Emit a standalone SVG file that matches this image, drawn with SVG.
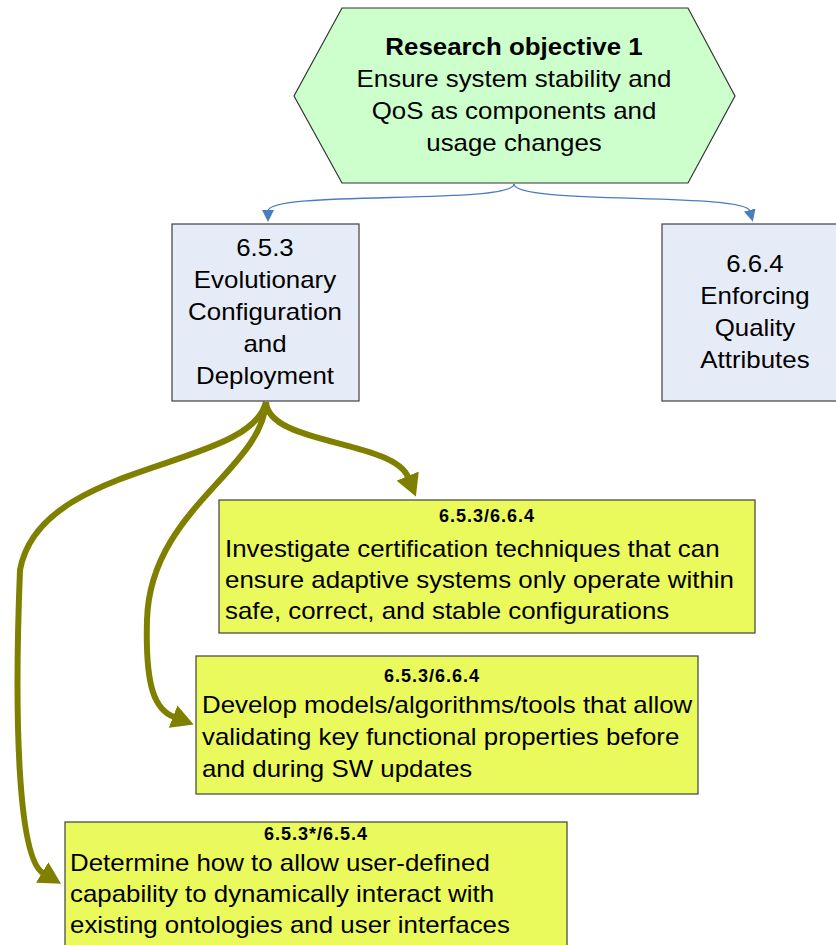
<svg xmlns="http://www.w3.org/2000/svg" width="836" height="945" viewBox="0 0 836 945">
<defs>
<style>
.t{font-family:"Liberation Sans",Arial,sans-serif;font-size:23px;fill:#000}
.c{text-anchor:middle}
.b{font-weight:bold}
.h{font-family:"Liberation Sans",Arial,sans-serif;font-size:18px;font-weight:bold;text-anchor:middle;fill:#000;letter-spacing:1px}
.blue{fill:#e6ecf7;stroke:#404040;stroke-width:1.2}
.yel{fill:#eafa5c;stroke:#404040;stroke-width:1.2}
.ol{fill:none;stroke:#808000;stroke-width:6;marker-end:url(#ah)}
.bl{fill:none;stroke:#4a7ebb;stroke-width:1.3;marker-end:url(#bh)}
</style>
<marker id="ah" markerUnits="userSpaceOnUse" viewBox="0 0 22 24" refX="1" refY="12" markerWidth="22" markerHeight="24" orient="auto"><path d="M0,0 L22,12 L0,24 z" fill="#808000"/></marker>
<marker id="bh" markerUnits="userSpaceOnUse" viewBox="0 0 12 12" refX="1" refY="6" markerWidth="12" markerHeight="12" orient="auto"><path d="M0,0 L12,6 L0,12 z" fill="#4a7ebb"/></marker>
</defs>
<rect width="836" height="945" fill="#fff"/>
<g id="connectors">
<path class="bl" d="M514,184 C514,205 268,190 268,211"/>
<path class="bl" d="M514,184 C514,205 745,192 750,211"/>
<path class="ol" d="M266,402 C268,445 393,440 408,477"/>
<path class="ol" d="M266,402 C262,470 150,510 147,620 C145,690 156,710 174,717"/>
<path class="ol" d="M266,402 C250,470 40,460 20,570 C14,720 18,858 43,873"/>
</g>
<g id="objective">
<polygon points="342,8 688,8 735,96 688,183 342,183 294,96" fill="#ccffcc" stroke="#333" stroke-width="1.2"/>
<g transform="translate(514,0) scale(1.125,1) translate(-514,0)">
<text class="t c b" x="514" y="55">Research objective 1</text>
<text class="t c" x="514" y="87">Ensure system stability and</text>
<text class="t c" x="514" y="119">QoS as components and</text>
<text class="t c" x="514" y="151">usage changes</text>
</g>
</g>
<g id="n653">
<rect class="blue" x="172" y="224" width="187" height="177"/>
<g transform="translate(265,0) scale(1.125,1) translate(-265,0)">
<text class="t c" x="265" y="256">6.5.3</text>
<text class="t c" x="265" y="288">Evolutionary</text>
<text class="t c" x="265" y="320">Configuration</text>
<text class="t c" x="265" y="352">and</text>
<text class="t c" x="265" y="384">Deployment</text>
</g>
</g>
<g id="n664">
<rect class="blue" x="662" y="224" width="180" height="177"/>
<g transform="translate(755,0) scale(1.125,1) translate(-755,0)">
<text class="t c" x="755" y="272">6.6.4</text>
<text class="t c" x="755" y="304">Enforcing</text>
<text class="t c" x="755" y="336">Quality</text>
<text class="t c" x="755" y="368">Attributes</text>
</g>
</g>
<g id="task1">
<rect class="yel" x="219" y="500" width="536" height="133"/>
<text class="h" x="487" y="522">6.5.3/6.6.4</text>
<g transform="translate(225,0) scale(1.125,1) translate(-225,0)">
<text class="t" x="225" y="557">Investigate certification techniques that can</text>
<text class="t" x="225" y="588">ensure adaptive systems only operate within</text>
<text class="t" x="225" y="619">safe, correct, and stable configurations</text>
</g>
</g>
<g id="task2">
<rect class="yel" x="196" y="656" width="502" height="138"/>
<text class="h" x="432" y="682">6.5.3/6.6.4</text>
<g transform="translate(202,0) scale(1.125,1) translate(-202,0)">
<text class="t" x="202" y="713">Develop models/algorithms/tools that allow</text>
<text class="t" x="202" y="745">validating key functional properties before</text>
<text class="t" x="202" y="777">and during SW updates</text>
</g>
</g>
<g id="task3">
<rect class="yel" x="65" y="822" width="502" height="130"/>
<text class="h" x="316" y="840">6.5.3*/6.5.4</text>
<g transform="translate(70,0) scale(1.125,1) translate(-70,0)">
<text class="t" x="70" y="871">Determine how to allow user-defined</text>
<text class="t" x="70" y="902">capability to dynamically interact with</text>
<text class="t" x="70" y="933">existing ontologies and user interfaces</text>
</g>
</g>
</svg>
